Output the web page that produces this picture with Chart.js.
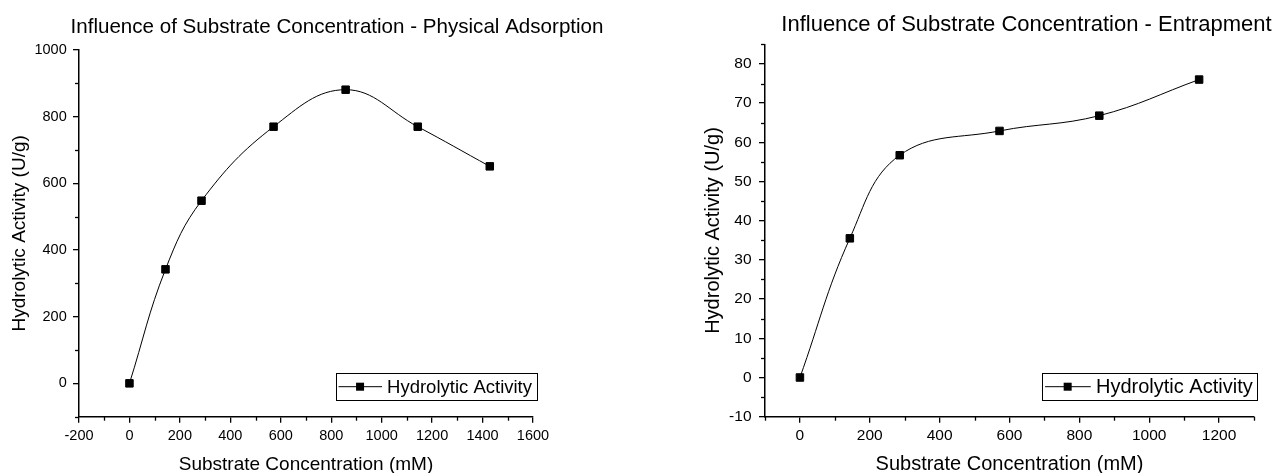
<!DOCTYPE html>
<html>
<head>
<meta charset="utf-8">
<script src="https://cdn.jsdelivr.net/npm/chart.js@4/dist/chart.umd.min.js"></script>
<style>
  html, body { margin: 0; padding: 0; background: #fff; }
  .wrap { position: relative; width: 1281px; height: 473px; }
  .panel { position: absolute; top: 0; height: 473px; }
</style>
</head>
<body>
<div class="wrap">
  <div class="panel" style="left:0;width:640px"><canvas id="adsorption" width="640" height="473"></canvas></div>
  <div class="panel" style="left:640px;width:641px"><canvas id="entrapment" width="641" height="473"></canvas></div>
</div>
<script>
// substrate concentration (mM) and hydrolytic activity (U/g)
const adsorptionConc = [0, 142.9, 285.7, 571.4, 857.1, 1142.9, 1428.6];
const adsorptionActivity = [0, 342, 548, 770, 881, 770, 651];
const entrapmentConc = [0, 142.9, 285.7, 571.4, 857.1, 1142.9];
const entrapmentActivity = [0, 35.5, 56.7, 62.9, 66.8, 76.0];

// major tick values
const adsorptionXTicks = [-200, 0, 200, 400, 600, 800, 1000, 1200, 1400, 1600];
const adsorptionYTicks = [0, 200, 400, 600, 800, 1000];
const entrapmentXTicks = [0, 200, 400, 600, 800, 1000, 1200];
const entrapmentYTicks = [-10, 0, 10, 20, 30, 40, 50, 60, 70, 80];

const seriesLabel = "Hydrolytic Activity";
const xTitle = "Substrate Concentration (mM)";
const yTitle = "Hydrolytic Activity (U/g)";
const FONT = "'Liberation Sans', Arial, sans-serif";

Chart.defaults.font.family = FONT;
Chart.defaults.color = "#000";

// half-step minor ticks, drawn outside the axes
const minorTicks = {
  id: "minorTicks",
  afterDraw(chart, args, opts) {
    const ctx = chart.ctx;
    ctx.save();
    ctx.strokeStyle = "#000";
    ctx.lineWidth = 1.3;
    ["x", "y"].forEach((id) => {
      const scale = chart.scales[id];
      const majors = scale.ticks.map((t) => t.value);
      const step = (majors[1] - majors[0]) / 2;
      for (let v = scale.min; v <= scale.max + 1e-6; v += step) {
        if (majors.some((m) => Math.abs(m - v) < 1e-6)) continue;
        const p = Math.round(scale.getPixelForValue(v)) + 0.5;
        ctx.beginPath();
        if (id === "x") {
          ctx.moveTo(p, scale.top);
          ctx.lineTo(p, scale.top + opts.length);
        } else {
          ctx.moveTo(scale.right, p);
          ctx.lineTo(scale.right - opts.length, p);
        }
        ctx.stroke();
      }
    });
    ctx.restore();
  },
};

// boxed legend in the lower right of the plot
const boxLegend = {
  id: "boxLegend",
  afterDatasetsDraw(chart, args, opts) {
    const { ctx, chartArea } = chart;
    const label = chart.data.datasets[0].label;
    const k = opts.k;
    ctx.save();
    ctx.font = opts.size + "px " + FONT;
    const textW = ctx.measureText(label).width;
    const w = 51 * k + textW + 5;
    const h = 27;
    const right = chartArea.right + opts.dx;
    const bottom = chartArea.bottom + opts.dy;
    const left = right - w;
    const top = bottom - h;
    ctx.fillStyle = "#fff";
    ctx.fillRect(left, top, w, h);
    ctx.strokeStyle = "#000";
    ctx.lineWidth = 1;
    ctx.strokeRect(Math.round(left) + 0.5, Math.round(top) + 0.5, Math.round(w), h);
    const cy = top + h / 2;
    ctx.beginPath();
    ctx.moveTo(left + 2.5 * k, cy);
    ctx.lineTo(left + 46 * k, cy);
    ctx.stroke();
    ctx.fillStyle = "#000";
    ctx.fillRect(left + 24 * k - 4, cy - 4, 8, 8);
    ctx.textBaseline = "middle";
    ctx.fillText(label, left + 51 * k, cy + 1);
    ctx.restore();
  },
};

// move the chart title sideways
const titleShift = {
  id: "titleShift",
  afterLayout(chart, args, opts) {
    const tb = chart.titleBlock;
    if (tb) {
      tb.left += opts.dx;
      tb.right += opts.dx;
    }
  },
};

function makeChart(id, xs, ys, xTicks, yTicks, o) {
  const tickFont = { size: o.tickSize };
  return new Chart(document.getElementById(id), {
    type: "line",
    data: {
      datasets: [
        {
          label: seriesLabel,
          data: xs.map((x, i) => ({ x: x, y: ys[i] })),
          borderColor: "#000",
          borderWidth: 1,
          backgroundColor: "#000",
          pointStyle: "rect",
          pointRadius: 5.3,
          pointBorderWidth: 1,
          tension: 0.4,
        },
      ],
    },
    options: {
      responsive: false,
      animation: false,
      devicePixelRatio: 1,
      layout: { padding: { left: 0, right: o.padRight, top: 0, bottom: 0 } },
      plugins: {
        legend: { display: false },
        tooltip: { enabled: false },
        title: {
          display: true,
          text: o.title,
          color: "#000",
          font: { size: o.titleSize, weight: "normal" },
          padding: { top: o.titleTop, bottom: o.titleBottom },
        },
        titleShift: { dx: o.titleDx },
        boxLegend: { size: o.legendSize, k: o.legendK, dx: o.legendDx, dy: -16.5 },
        minorTicks: { length: 4 },
      },
      scales: {
        x: {
          type: "linear",
          min: o.xMin,
          max: o.xMax,
          afterBuildTicks: (s) => { s.ticks = xTicks.map((v) => ({ value: v })); },
          afterFit: (s) => { s.height = o.xHeight; },
          ticks: { font: tickFont, color: "#000", padding: o.xTickPad, maxRotation: 0, autoSkip: false, callback: (v) => String(v) },
          grid: { drawOnChartArea: false, color: "#000", lineWidth: 1.3, tickLength: 6 },
          border: { color: "#000", width: 1.5 },
          title: {
            display: true,
            text: xTitle,
            color: "#000",
            font: { size: o.axisTitleSize, lineHeight: 0.9 },
            padding: { top: 0, bottom: 0 },
          },
        },
        y: {
          type: "linear",
          min: o.yMin,
          max: o.yMax,
          afterBuildTicks: (s) => { s.ticks = yTicks.map((v) => ({ value: v })); },
          afterFit: (s) => { s.width = o.yWidth; },
          ticks: { font: tickFont, color: "#000", padding: o.yTickPad, autoSkip: false, callback: (v) => String(v) },
          grid: { drawOnChartArea: false, color: "#000", lineWidth: 1.3, tickLength: 6 },
          border: { color: "#000", width: 1.5 },
          title: {
            display: true,
            text: yTitle,
            color: "#000",
            font: { size: o.axisTitleSize, lineHeight: 1 },
            padding: { top: o.yTitlePad, bottom: 0 },
          },
        },
      },
    },
    plugins: [minorTicks, boxLegend, titleShift],
  });
}

makeChart("adsorption", adsorptionConc, adsorptionActivity, adsorptionXTicks, adsorptionYTicks, {
  title: "Influence of Substrate Concentration - Physical Adsorption",
  titleSize: 20.6, titleTop: 14.5, titleBottom: 10.8, titleDx: 70.5,
  tickSize: 14.5, axisTitleSize: 19, legendSize: 18.5, legendK: 1, legendDx: 4,
  xMin: -200, xMax: 1600, yMin: -100, yMax: 1000,
  padRight: 107, yWidth: 79, xHeight: 56.3, xTickPad: 5, yTickPad: 6.3, yTitlePad: 10.5,
});

makeChart("entrapment", entrapmentConc, entrapmentActivity, entrapmentXTicks, entrapmentYTicks, {
  title: "Influence of Substrate Concentration - Entrapment",
  titleSize: 22, titleTop: 11.8, titleBottom: 6.1, titleDx: 79.5,
  tickSize: 15.5, axisTitleSize: 20, legendSize: 20, legendK: 1.05, legendDx: 3.7,
  xMin: -100, xMax: 1300, yMin: -10, yMax: 85,
  padRight: 27, yWidth: 125, xHeight: 56.3, xTickPad: 4, yTickPad: 7.5, yTitlePad: 63.4,
});
</script>
</body>
</html>
